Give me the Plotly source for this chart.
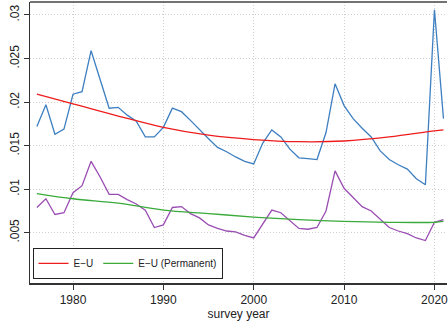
import plotly.graph_objects as go

years = list(range(1976, 2022))
eu_rate = [0.0172, 0.0197, 0.0163, 0.0169, 0.0209, 0.0212, 0.0259, 0.0227, 0.0193, 0.0194,
           0.0185, 0.0178, 0.0160, 0.0160, 0.0171, 0.0193, 0.0189, 0.0179, 0.0168, 0.0158,
           0.0148, 0.0143, 0.0137, 0.0132, 0.0129, 0.0153, 0.0168, 0.0160, 0.0146, 0.0136,
           0.0135, 0.0134, 0.0165, 0.0221, 0.0196, 0.0181, 0.0170, 0.0160, 0.0144, 0.0134,
           0.0128, 0.0123, 0.0112, 0.0105, 0.0306, 0.0181]
eu_perm = [0.0079, 0.0089, 0.0071, 0.0073, 0.0096, 0.0104, 0.0132, 0.0114, 0.0094, 0.0094,
           0.0088, 0.0083, 0.0076, 0.0056, 0.0059, 0.0079, 0.0080, 0.0072, 0.0067, 0.0059,
           0.0055, 0.0052, 0.0051, 0.0047, 0.0044, 0.0060, 0.0076, 0.0073, 0.0064, 0.0055,
           0.0054, 0.0056, 0.0075, 0.0121, 0.0101, 0.0091, 0.0080, 0.0075, 0.0065, 0.0056,
           0.0052, 0.0049, 0.0044, 0.0041, 0.0062, 0.0065]

fit_years = [1976, 1980, 1985, 1990, 1995, 2000, 2005, 2010, 2015, 2020, 2021]
eu_fit = [0.0209, 0.0198, 0.0184, 0.0171, 0.0162, 0.0157, 0.01545, 0.01553, 0.0160, 0.0167, 0.0168]
perm_fit = [0.0095, 0.0089, 0.0084, 0.0076, 0.0072, 0.0068, 0.0065, 0.0063, 0.0062, 0.0062, 0.0063]

y_tickvals = [0.005, 0.01, 0.015, 0.02, 0.025, 0.03]
y_ticktext = [".005", ".01", ".015", ".02", ".025", ".03"]
x_tickvals = [1980, 1990, 2000, 2010, 2020]

font_family = "Liberation Sans, Arial, sans-serif"

fig = go.Figure()
fig.add_trace(go.Scatter(x=years, y=eu_rate, mode="lines",
                         line=dict(color="#3d7fc1", width=1.3), showlegend=False))
fig.add_trace(go.Scatter(x=years, y=eu_perm, mode="lines",
                         line=dict(color="#9a4db3", width=1.3), showlegend=False))
fig.add_trace(go.Scatter(x=fit_years, y=eu_fit, mode="lines", name="E\u2212U",
                         line=dict(color="#ee1c1c", width=1.3, shape="spline")))
fig.add_trace(go.Scatter(x=fit_years, y=perm_fit, mode="lines", name="E\u2212U (Permanent)",
                         line=dict(color="#3aaa3a", width=1.3, shape="spline")))

fig.update_layout(
    width=448, height=321,
    margin=dict(l=30, r=1, t=2, b=38),
    paper_bgcolor="white", plot_bgcolor="white",
    font=dict(family=font_family, size=12, color="#222"),
    legend=dict(orientation="h", x=0.006, y=0.015, xanchor="left", yanchor="bottom",
                bordercolor="#222", borderwidth=1, bgcolor="white",
                font=dict(size=10, color="#222"), itemwidth=30,
                tracegroupgap=0),
    xaxis=dict(range=[1975.24, 2021.39], tickvals=x_tickvals, showgrid=True,
               gridcolor="#cfcfcf", griddash="1px,2px", gridwidth=1,
               showline=True, linecolor="#333", linewidth=2,
               ticks="outside", ticklen=5, tickcolor="#333",
               ticklabeloverflow="allow",
               title=dict(text="survey year", font=dict(size=12), standoff=0),
               zeroline=False, tickfont=dict(size=12)),
    yaxis=dict(range=[-0.00077, 0.03149], tickvals=y_tickvals, ticktext=y_ticktext,
               tickangle=-90, showgrid=True, gridcolor="#cfcfcf", griddash="1px,2px",
               gridwidth=1, showline=True, linecolor="#333", linewidth=1,
               ticks="outside", ticklen=5, tickcolor="#333",
               zeroline=False, tickfont=dict(size=12)),
    shapes=[dict(type="line", xref="paper", yref="paper", x0=0, x1=1, y0=1, y1=1,
                 line=dict(color="#444", width=1.5))],
)

fig.write_html("out.html")
